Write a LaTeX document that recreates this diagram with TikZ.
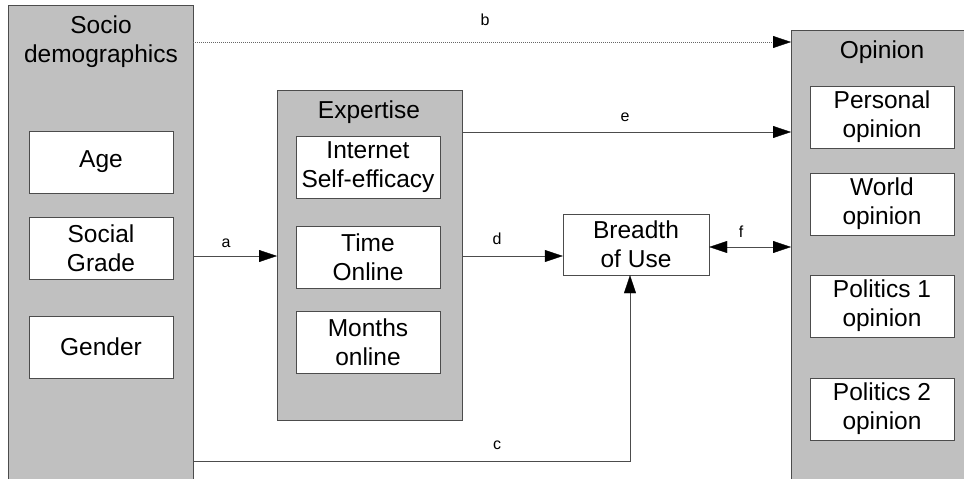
\documentclass[tikz,border=0pt]{standalone}
\usepackage{fontspec}
\setmainfont{Liberation Sans}
\usetikzlibrary{arrows.meta}
\definecolor{panelgray}{RGB}{192,192,192}
\tikzset{
  panel/.style={draw=black!70, fill=panelgray, anchor=north west, inner sep=0pt},
  item/.style={draw=black!70, fill=white, minimum width=144pt, minimum height=62pt,
    inner sep=0pt, align=center, font=\fontsize{24.5}{29}\selectfont},
  title/.style={align=center, anchor=base, font=\fontsize{24.5}{29}\selectfont},
  link/.style={draw=black!70, -{Triangle[length=18pt,width=12pt,color=black]}},
  tag/.style={font=\fontsize{16}{18}\selectfont}
}
\begin{document}
\begin{tikzpicture}[x=1pt,y=-1pt]
\useasboundingbox (0,0) rectangle (964,479);
\clip (0,0) rectangle (964,479);
\node[panel, minimum width=185pt, minimum height=490pt] (socio) at (8,5) {};
\node[panel, minimum width=185pt, minimum height=330pt] (expertise) at (277,90) {};
\node[panel, minimum width=185pt, minimum height=460pt] (opinion) at (791,30) {};
\node[title] (sociotitle) at (101,62) {Socio\\demographics};
\node[title] (experttitle) at (369,118) {Expertise};
\node[title] (opiniontitle) at (882,58) {Opinion};
\foreach \n/\x/\y/\t in {age/101/162/Age, grade/101/248/Social\\Grade, gender/101/347/Gender,
  internet/368/167/Internet\\Self-efficacy, time/368/257/Time\\Online, months/368/342/Months\\online,
  personal/882/117/Personal\\opinion, world/882/204/World\\opinion,
  pol1/882/306/Politics 1\\opinion, pol2/882/409/Politics 2\\opinion} {
  \node[item] (\n) at (\x,\y) {\t};
}
\node[item, minimum width=146pt, minimum height=61pt] (breadth) at (636,244.5) {Breadth\\of Use};
\coordinate (ab) at (0,256);
\coordinate (bb) at (0,42);
\coordinate (eb) at (0,132);
\coordinate (cb) at (0,461);
\draw[link] (socio.east |- ab) -- (expertise.west |- ab);
\draw[link] (expertise.east |- ab) -- (breadth.west |- ab);
\draw[link, draw=black!60, dash pattern=on 1pt off 1pt] (socio.east |- bb) -- (opinion.west |- bb);
\draw[link] (expertise.east |- eb) -- (opinion.west |- eb);
\draw[link] (socio.east |- cb) -| ([xshift=-6pt]breadth.south);
\draw[link, {Triangle[length=18pt,width=12pt,color=black]}-{Triangle[length=18pt,width=12pt,color=black]}] (breadth.east |- 0,247) -- (opinion.west |- 0,247);
\draw (226,243) node[tag] (la) {a};
\draw (485,20) node[tag] (lb) {b};
\draw (497,445) node[tag] (lc) {c};
\draw (497,239) node[tag] (ld) {d};
\draw (625,117) node[tag] (le) {e};
\draw (741,232) node[tag] (lf) {f};
\end{tikzpicture}
\end{document}
